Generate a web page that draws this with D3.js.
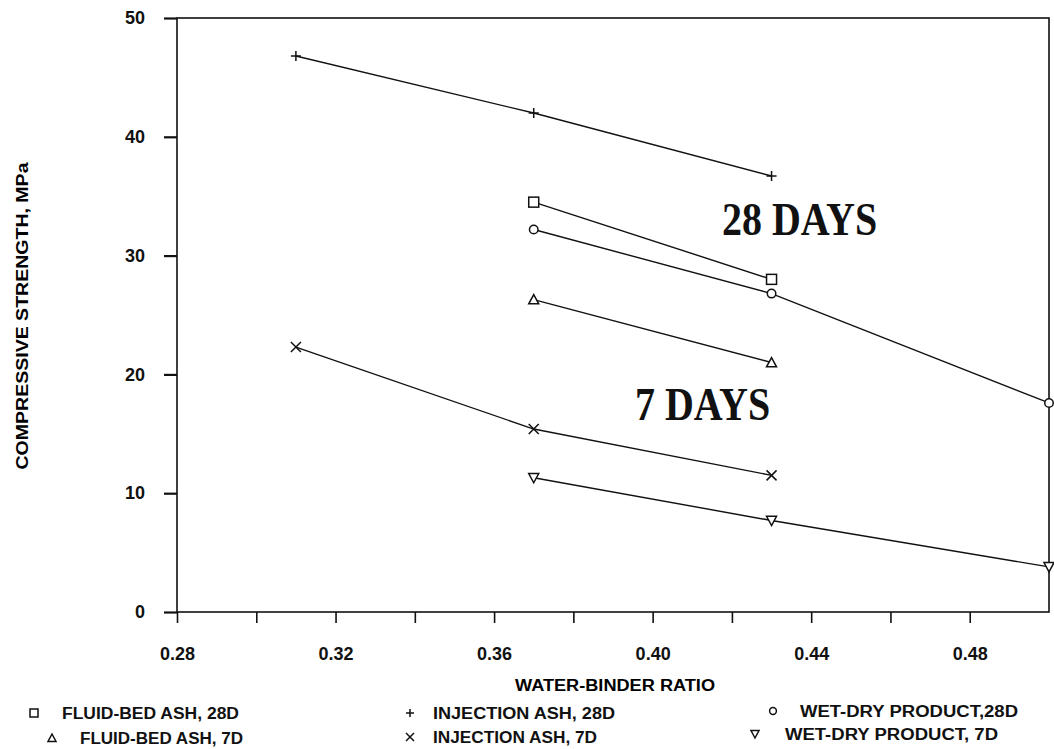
<!DOCTYPE html>
<html>
<head>
<meta charset="utf-8">
<script src="https://cdn.jsdelivr.net/npm/d3@7"></script>
<style>
  body { margin: 0; background: #fff; }
  svg { display: block; }
</style>
</head>
<body>
<svg id="chart"></svg>
<script>
// compressive strength (MPa) against water-binder ratio
const fluid28X = [0.37, 0.43];
const fluid28Y = [34.5, 28.0];
const fluid7X = [0.37, 0.43];
const fluid7Y = [26.3, 21.0];
const inj28X = [0.31, 0.37, 0.43];
const inj28Y = [46.8, 42.0, 36.7];
const inj7X = [0.31, 0.37, 0.43];
const inj7Y = [22.3, 15.4, 11.5];
const wet28X = [0.37, 0.43, 0.50];
const wet28Y = [32.2, 26.8, 17.6];
const wet7X = [0.37, 0.43, 0.50];
const wet7Y = [11.3, 7.7, 3.8];

const xTicks = [0.28, 0.32, 0.36, 0.40, 0.44, 0.48];
const xMinor = [0.30, 0.34, 0.38, 0.42, 0.46];
const yTicks = [0, 10, 20, 30, 40, 50];

const width = 1054, height = 749;
const margin = {top: 18, right: 5, bottom: 137, left: 177};
const sans = "Liberation Sans, Arial, sans-serif";
const serif = "Liberation Serif, Times New Roman, serif";

const series = [
  {name: "FLUID-BED ASH, 28D", xs: fluid28X, ys: fluid28Y, sym: "square"},
  {name: "INJECTION ASH, 28D", xs: inj28X, ys: inj28Y, sym: "plus"},
  {name: "WET-DRY PRODUCT,28D", xs: wet28X, ys: wet28Y, sym: "circle"},
  {name: "FLUID-BED ASH, 7D", xs: fluid7X, ys: fluid7Y, sym: "triangle"},
  {name: "INJECTION ASH, 7D", xs: inj7X, ys: inj7Y, sym: "cross"},
  {name: "WET-DRY PRODUCT, 7D", xs: wet7X, ys: wet7Y, sym: "tridown"}
];

const svg = d3.select("#chart").attr("width", width).attr("height", height)
    .style("font-family", sans);

const x = d3.scaleLinear().domain([0.28, 0.50]).range([margin.left, width - margin.right]);
const y = d3.scaleLinear().domain([0, 50]).range([height - margin.bottom, margin.top]);

// frame
svg.append("rect")
    .attr("x", x(0.28)).attr("y", y(50))
    .attr("width", x(0.50) - x(0.28)).attr("height", y(0) - y(50))
    .attr("fill", "none").attr("stroke", "#111").attr("stroke-width", 1.6);

// x axis
svg.append("g")
    .attr("transform", `translate(0,${y(0)})`)
    .call(d3.axisBottom(x).tickValues(xTicks).tickFormat(d3.format(".2f")).tickSize(11).tickPadding(24))
    .call(g => g.select(".domain").remove())
    .call(g => g.selectAll(".tick line").attr("stroke", "#111").attr("stroke-width", 1.6))
    .call(g => g.selectAll("text").attr("font-size", 18).attr("font-weight", "bold")
        .attr("fill", "#111").style("font-family", sans));

svg.append("g")
    .attr("transform", `translate(0,${y(0)})`)
    .call(d3.axisBottom(x).tickValues(xMinor).tickFormat("").tickSize(11))
    .call(g => g.select(".domain").remove())
    .call(g => g.selectAll(".tick line").attr("stroke", "#111").attr("stroke-width", 1.6));

// y axis
svg.append("g")
    .attr("transform", `translate(${x(0.28)},0)`)
    .call(d3.axisLeft(y).tickValues(yTicks).tickSize(13).tickPadding(19))
    .call(g => g.select(".domain").remove())
    .call(g => g.selectAll(".tick line").attr("stroke", "#111").attr("stroke-width", 2.2))
    .call(g => g.selectAll("text").attr("font-size", 18).attr("font-weight", "bold")
        .attr("fill", "#111").style("font-family", sans));

// axis titles
svg.append("text")
    .attr("x", 615).attr("y", 691)
    .attr("text-anchor", "middle")
    .attr("font-size", 16).attr("font-weight", "bold")
    .attr("textLength", 200).attr("lengthAdjust", "spacingAndGlyphs")
    .text("WATER-BINDER RATIO");

svg.append("text")
    .attr("transform", `translate(28,${(y(0) + y(50)) / 2 + 1}) rotate(-90)`)
    .attr("text-anchor", "middle")
    .attr("font-size", 17).attr("font-weight", "bold")
    .attr("textLength", 307).attr("lengthAdjust", "spacingAndGlyphs")
    .text("COMPRESSIVE STRENGTH, MPa");

function marker(g, sym, s) {
  if (sym === "square") g.append("rect").attr("x", -s).attr("y", -s).attr("width", 2 * s).attr("height", 2 * s).attr("fill", "#fff");
  else if (sym === "circle") g.append("circle").attr("r", s * 0.85).attr("fill", "#fff");
  else if (sym === "triangle") g.append("path").attr("d", `M0,${-s}L${s},${s * 0.85}L${-s},${s * 0.85}Z`).attr("fill", "#fff");
  else if (sym === "tridown") g.append("path").attr("d", `M0,${s}L${s},${-s * 0.85}L${-s},${-s * 0.85}Z`).attr("fill", "#fff");
  else if (sym === "plus") g.append("path").attr("d", `M${-s},0H${s}M0,${-s}V${s}`);
  else if (sym === "cross") g.append("path").attr("d", `M${-s},${-s}L${s},${s}M${-s},${s}L${s},${-s}`);
  g.selectAll("*").attr("stroke", "#111").attr("stroke-width", 1.5);
}

const line = d3.line().x(d => x(d[0])).y(d => y(d[1]));

series.forEach(s => {
  const pts = s.xs.map((v, i) => [v, s.ys[i]]);
  svg.append("path")
      .attr("d", line(pts))
      .attr("fill", "none").attr("stroke", "#111").attr("stroke-width", 1.4);
  svg.append("g").selectAll("g")
    .data(pts)
    .join("g")
      .attr("transform", d => `translate(${x(d[0])},${y(d[1])})`)
      .each(function() { marker(d3.select(this), s.sym, 5); });
});

// annotations
svg.append("text")
    .attr("transform", "translate(722,235) scale(1,1.18)")
    .style("font-family", serif)
    .attr("font-size", 40).attr("font-weight", "bold").attr("fill", "#111")
    .text("28 DAYS");

svg.append("text")
    .attr("transform", "translate(635,420) scale(1,1.18)")
    .style("font-family", serif)
    .attr("font-size", 40).attr("font-weight", "bold").attr("fill", "#111")
    .text("7 DAYS");

// legend
const legendPos = [
  {mx: 34, tx: 62, y: 713, len: 177},
  {mx: 410, tx: 433, y: 713, len: 182},
  {mx: 773, tx: 800, y: 711, len: 218},
  {mx: 52, tx: 80, y: 738, len: 163},
  {mx: 410, tx: 433, y: 737, len: 164},
  {mx: 755, tx: 785, y: 734, len: 213}
];

series.forEach((s, i) => {
  const p = legendPos[i];
  const g = svg.append("g").attr("transform", `translate(${p.mx},${p.y})`);
  marker(g, s.sym, 4);
  svg.append("text")
      .attr("x", p.tx).attr("y", p.y)
      .attr("dy", "0.36em")
      .attr("font-size", 16).attr("font-weight", "bold").attr("fill", "#111")
      .attr("textLength", p.len).attr("lengthAdjust", "spacingAndGlyphs")
      .text(s.name);
});
</script>
</body>
</html>
